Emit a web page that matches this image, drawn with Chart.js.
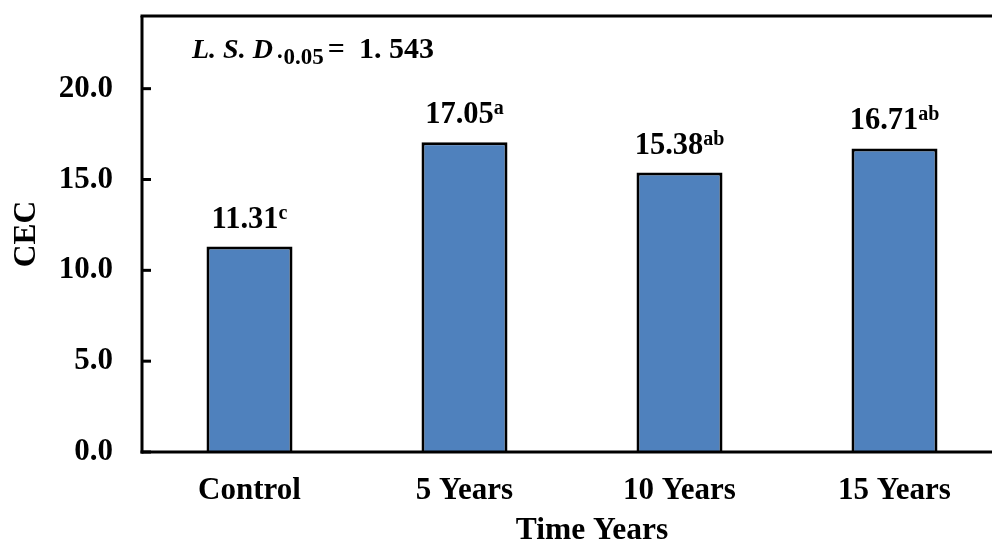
<!DOCTYPE html>
<html>
<head>
<meta charset="utf-8">
<script src="https://cdn.jsdelivr.net/npm/chart.js@4/dist/chart.umd.min.js"></script>
<style>
  html, body { margin: 0; padding: 0; background: #fff; overflow: hidden; }
  #wrap { position: relative; width: 1010px; height: 542px; }
</style>
</head>
<body>
<div id="wrap"><canvas id="cec"></canvas></div>
<script>
// CEC by time since establishment
const categories = ['Control', '5 Years', '10 Years', '15 Years'];
const cecValues = [11.31, 17.05, 15.38, 16.71];
const groupLetters = ['c', 'a', 'ab', 'ab'];
const yTicks = [0, 5, 10, 15, 20];

const SERIF = '"Liberation Serif", "Times New Roman", serif';

// Frame, inward tick marks, axis titles, value labels and the LSD note
const decorations = {
  id: 'decorations',
  afterDatasetsDraw(chart) {
    const { ctx, chartArea: a, scales: { x, y } } = chart;
    const W = chart.width;
    ctx.save();
    ctx.strokeStyle = '#000';
    ctx.lineWidth = 3;
    ctx.lineCap = 'butt';
    // top frame line
    ctx.beginPath();
    ctx.moveTo(a.left - 1.5, a.top);
    ctx.lineTo(W, a.top);
    ctx.stroke();
    // left (value) axis
    ctx.beginPath();
    ctx.moveTo(a.left, a.top);
    ctx.lineTo(a.left, a.bottom + 1.5);
    ctx.stroke();
    // bottom (category) axis
    ctx.beginPath();
    ctx.moveTo(a.left - 1.5, a.bottom);
    ctx.lineTo(W, a.bottom);
    ctx.stroke();
    // inward ticks
    yTicks.forEach(v => {
      const py = y.getPixelForValue(v);
      ctx.beginPath();
      ctx.moveTo(a.left, py);
      ctx.lineTo(a.left + 9, py);
      ctx.stroke();
    });

    // value labels with significance letters
    const meta = chart.getDatasetMeta(0);
    meta.data.forEach((bar, i) => {
      const main = cecValues[i].toFixed(2);
      const sup = groupLetters[i];
      ctx.font = 'bold 30.5px ' + SERIF;
      const wMain = ctx.measureText(main).width;
      ctx.font = 'bold 20px ' + SERIF;
      const wSup = ctx.measureText(sup).width;
      const start = bar.x - (wMain + wSup) / 2;
      const base = bar.y - 19;
      ctx.fillStyle = '#000';
      ctx.textAlign = 'left';
      ctx.textBaseline = 'alphabetic';
      ctx.font = 'bold 30.5px ' + SERIF;
      ctx.fillText(main, start, base);
      ctx.font = 'bold 20px ' + SERIF;
      ctx.fillText(sup, start + wMain, base - 9);
    });

    // axis titles
    ctx.fillStyle = '#000';
    ctx.font = 'bold 31.5px ' + SERIF;
    ctx.textAlign = 'center';
    ctx.textBaseline = 'alphabetic';
    ctx.fillText('Time Years', 592, 539);
    ctx.save();
    ctx.translate(35, 234);
    ctx.rotate(-Math.PI / 2);
    ctx.fillText('CEC', 0, 0);
    ctx.restore();

    // least significant difference note
    const by = 58;
    let px = 192;
    ctx.textAlign = 'left';
    ctx.font = 'bold italic 28px ' + SERIF;
    ctx.fillText('L. S. D', px, by);
    px += ctx.measureText('L. S. D').width + 3;
    ctx.font = 'bold 23px ' + SERIF;
    ctx.fillText('\u00B70.05', px, by + 6);
    px += ctx.measureText('\u00B70.05').width + 4;
    ctx.font = 'bold 30px ' + SERIF;
    ctx.fillText('=', px, by);
    px += ctx.measureText('=').width + 14;
    ctx.fillText('1. 543', px, by);
    ctx.restore();
  }
};

new Chart(document.getElementById('cec'), {
  type: 'bar',
  data: {
    labels: categories,
    datasets: [{
      data: cecValues,
      backgroundColor: '#4F81BD',
      borderColor: '#000',
      borderWidth: 3,
      borderSkipped: 'bottom',
      barPercentage: 0.4,
      categoryPercentage: 1.0
    }]
  },
  options: {
    responsive: true,
    maintainAspectRatio: false,
    animation: false,
    events: [],
    layout: { padding: { left: 0, top: 16, right: 8, bottom: 0 } },
    plugins: { legend: { display: false }, tooltip: { enabled: false } },
    scales: {
      x: {
        grid: { display: false, drawTicks: false },
        border: { display: false },
        ticks: {
          color: '#000',
          font: { family: SERIF, size: 31, weight: 'bold' },
          padding: 20,
          maxRotation: 0
        },
        afterFit(scale) {
          scale.height = 90;
          scale.paddingLeft = 0;
          scale.paddingRight = 0;
        }
      },
      y: {
        min: 0,
        max: 24,
        grid: { display: false, drawTicks: false },
        border: { display: false },
        afterBuildTicks(scale) { scale.ticks = yTicks.map(v => ({ value: v })); },
        ticks: {
          color: '#000',
          font: { family: SERIF, size: 31, weight: 'bold' },
          padding: 29,
          callback: v => Number(v).toFixed(1)
        },
        afterFit(scale) {
          scale.width = 142;
          scale.paddingTop = 0;
          scale.paddingBottom = 0;
        }
      }
    }
  },
  plugins: [decorations]
});
</script>
</body>
</html>
